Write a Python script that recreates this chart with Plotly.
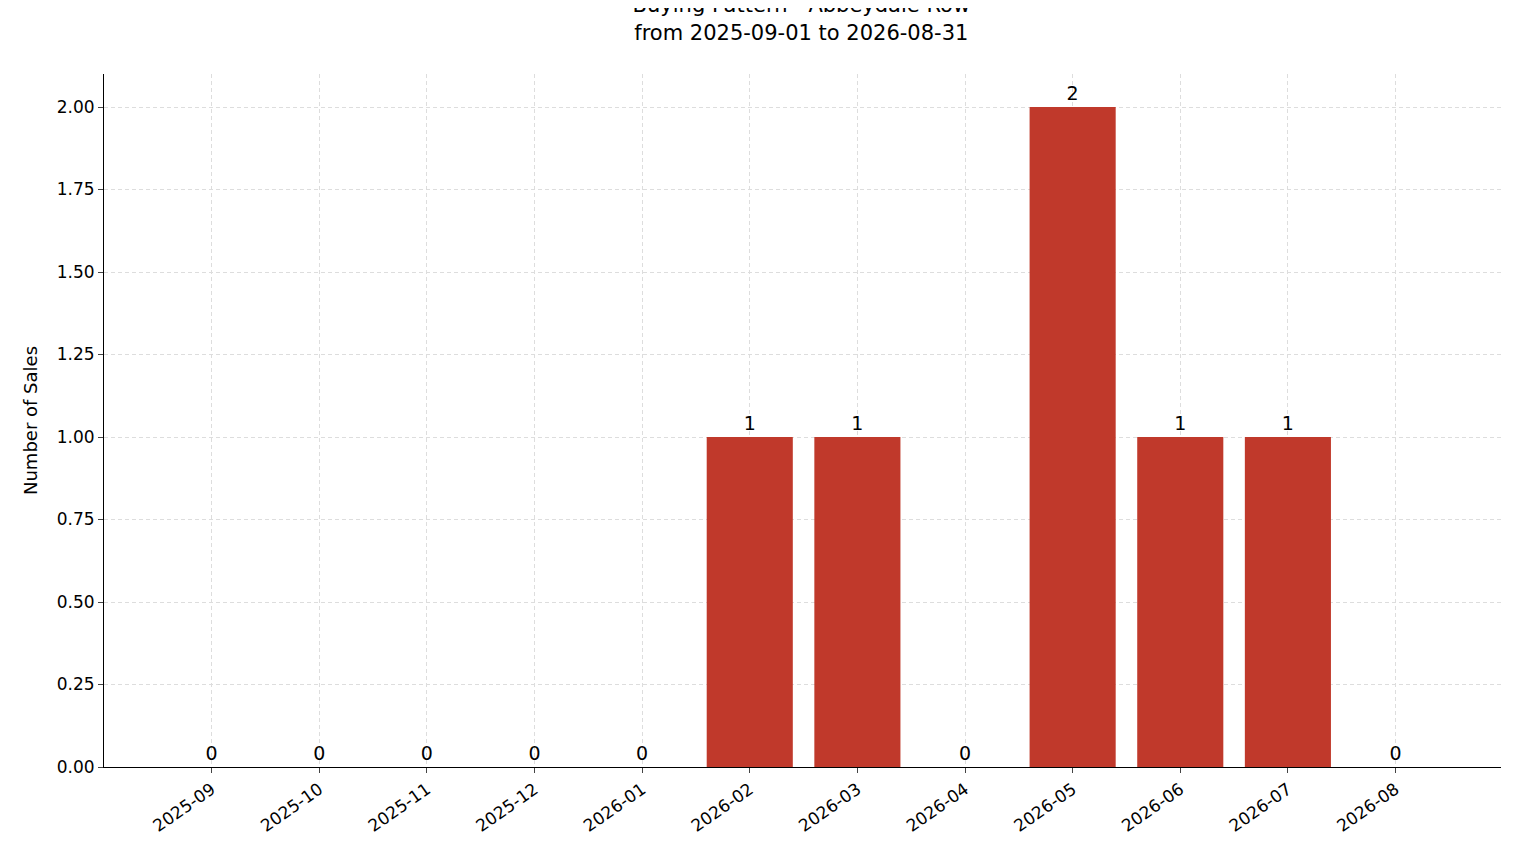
import plotly.graph_objects as go

months = ["2025-09","2025-10","2025-11","2025-12","2026-01","2026-02","2026-03","2026-04","2026-05","2026-06","2026-07","2026-08"]
sales = [0,0,0,0,0,1,1,0,2,1,1,0]

fig = go.Figure()
fig.add_trace(go.Bar(x=list(range(len(months))), y=sales, width=0.8, marker_color="#C0392B",
                     marker_line_width=0, text=[str(v) for v in sales], textposition="outside",
                     textfont=dict(size=19, color="black"), cliponaxis=False))
fig.update_layout(
    width=1514, height=863, plot_bgcolor="white", paper_bgcolor="white",
    margin=dict(l=96, r=21, t=66, b=104),
    font=dict(family="DejaVu Sans", size=17, color="black"),
    title=dict(text="Buying Pattern - Abbeydale Row<br>from 2025-09-01 to 2026-08-31", x=0.524, xanchor="center",
               y=0.995, yanchor="top", font=dict(size=21)),
    showlegend=False, bargap=0.2,
)
fig.update_xaxes(range=[-1, 11.98], tickmode="array", tickvals=list(range(len(months))), ticktext=months,
                 tickangle=-35, showline=True, linecolor="black", ticks="outside", ticklen=5,
                 showgrid=True, gridcolor="#dddddd", griddash="4px,3px", gridwidth=0.8, zeroline=False)
fig.update_yaxes(range=[0, 2.1], tickvals=[0,0.25,0.5,0.75,1,1.25,1.5,1.75,2], tickformat=".2f",
                 title=dict(text="Number of Sales", font=dict(size=18), standoff=14), showline=True, linecolor="black",
                 ticks="outside", ticklen=5, showgrid=True, gridcolor="#dddddd", griddash="4px,3px",
                 gridwidth=0.8, zeroline=False)
fig.write_html("out.html")
